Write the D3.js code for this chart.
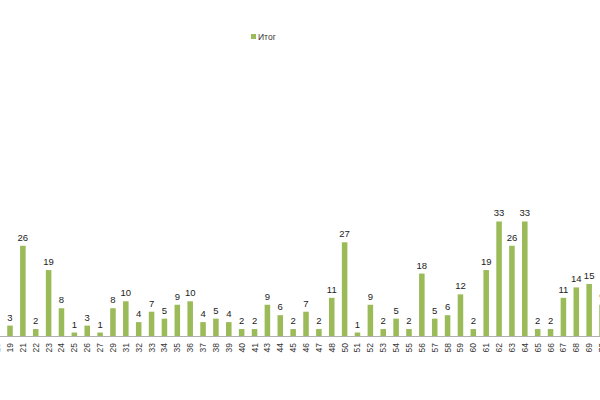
<!DOCTYPE html>
<html><head><meta charset="utf-8">
<script src="https://cdn.jsdelivr.net/npm/d3@7/dist/d3.min.js"></script>
<style>body{margin:0;background:#fff;overflow:hidden}svg{display:block}</style>
</head><body>
<svg id="c" width="600" height="400"></svg>
<script>
const categories = ["18","19","21","22","23","24","25","26","27","29","31","32","33","34","35","36","37","38","39","40","41","43","44","45","46","47","48","50","51","52","53","54","55","56","57","58","59","60","61","62","63","64","65","66","67","68","69","70"];
const values = [1,3,26,2,19,8,1,3,1,8,10,4,7,5,9,10,4,5,4,2,2,9,6,2,7,2,11,27,1,9,2,5,2,18,5,6,12,2,19,33,26,33,2,2,11,14,15,9];
const seriesName = "Итог";
const yMax = 80;

const svg = d3.select("#c");
const step = 12.87;
const x0 = 10 - 1.5*step;
const x = d3.scaleBand().domain(categories)
  .range([x0, x0 + categories.length*step]).paddingInner(0.57).paddingOuter(0.285);
const y = d3.scaleLinear().domain([0, yMax]).range([336, 336 - yMax*3.47]);
const green = "#9BBB59";

svg.append("g").selectAll("rect").data(values).join("rect")
  .attr("x", (d,i)=>x(categories[i]))
  .attr("y", d=>y(d))
  .attr("width", x.bandwidth())
  .attr("height", d=>y(0)-y(d))
  .attr("fill", green);

svg.append("line").attr("x1",0).attr("x2",600).attr("y1",y(0)+0.5).attr("y2",y(0)+0.5)
  .attr("stroke","#B0B0B0").attr("stroke-width",1);

svg.append("g").selectAll("text").data(values).join("text")
  .attr("x",(d,i)=>x(categories[i])+x.bandwidth()/2)
  .attr("y",d=>y(d)-5)
  .attr("text-anchor","middle")
  .attr("font-family","Liberation Sans, Arial, sans-serif")
  .attr("font-size","9.5px").attr("fill","#222")
  .text(d=>d);

const axis = d3.axisBottom(x).tickSize(0).tickPadding(0);
const ax = svg.append("g").attr("transform",`translate(0,${y(0)})`).call(axis);
ax.select(".domain").remove();
ax.selectAll("text")
  .attr("transform","rotate(-90)")
  .attr("x",-7).attr("y",0).attr("dy","0.35em")
  .attr("text-anchor","end")
  .attr("font-family","Liberation Sans, Arial, sans-serif")
  .attr("font-size","8.5px").attr("fill","#333");

const lg = svg.append("g");
lg.append("rect").attr("x",251).attr("y",34).attr("width",5).attr("height",5).attr("fill",green);
lg.append("text").attr("x",258).attr("y",37).attr("dy","0.35em")
  .attr("font-family","Liberation Sans, Arial, sans-serif")
  .attr("font-size","8.5px").attr("fill","#333").text(seriesName);
</script>
</body></html>
